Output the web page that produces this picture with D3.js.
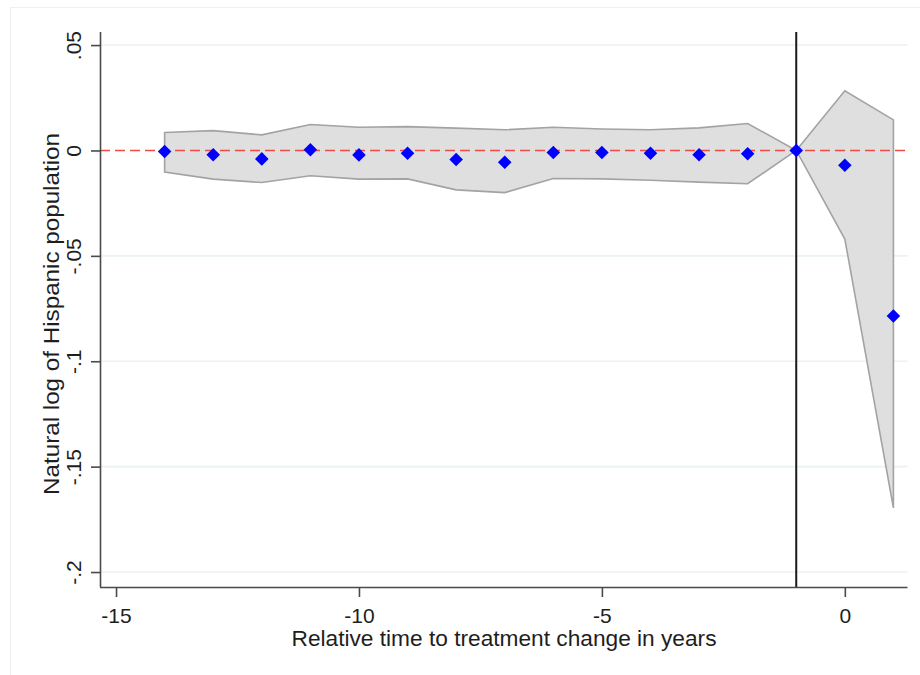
<!DOCTYPE html>
<html>
<head>
<meta charset="utf-8">
<script src="https://cdn.jsdelivr.net/npm/d3@7"></script>
<style>
  html, body { margin: 0; padding: 0; background: #ffffff; }
  svg { display: block; font-family: "Liberation Sans", Arial, sans-serif; }
</style>
</head>
<body>
<svg id="chart" width="920" height="675"></svg>
<script>
// Event-study estimates: relative year, point estimate, 95% CI bounds
const years    = [-14, -13, -12, -11, -10, -9, -8, -7, -6, -5, -4, -3, -2, -1, 0, 1];
const estimate = [-0.0005, -0.0020, -0.0040, 0.0003, -0.0021, -0.0013, -0.0043, -0.0056,
                  -0.0010, -0.0010, -0.0013, -0.0020, -0.0016, 0, -0.0070, -0.0785];
const ciUpper  = [0.0085, 0.0094, 0.0074, 0.0123, 0.0110, 0.0113, 0.0106, 0.0098,
                  0.0110, 0.0102, 0.0098, 0.0107, 0.0128, 0, 0.0283, 0.0145];
const ciLower  = [-0.0102, -0.0136, -0.0152, -0.0120, -0.0136, -0.0135, -0.0187, -0.0200,
                  -0.0133, -0.0135, -0.0141, -0.0150, -0.0158, 0, -0.0420, -0.1696];

const xTicks = [-15, -10, -5, 0];
const yTicks = [0.05, 0, -0.05, -0.1, -0.15, -0.2];
const yTickLabels = [".05", "0", "-.05", "-.1", "-.15", "-.2"];
const treatmentYear = -1;

const xTitle = "Relative time to treatment change in years";
const yTitle = "Natural log of Hispanic population";

const rows = years.map((yr, i) => ({ yr, est: estimate[i], hi: ciUpper[i], lo: ciLower[i] }));

const svg = d3.select("#chart");
const plotLeft = 100, plotRight = 907.5, plotTop = 32, plotBottom = 587;

const x = d3.scaleLinear().domain([-15.33, 1.29]).range([plotLeft, plotRight]);
const y = d3.scaleLinear().domain([-0.2071, 0.0562]).range([plotBottom, plotTop]);

// faint outer graph-region frame
svg.append("rect")
  .attr("x", 10.5).attr("y", 7.5).attr("width", 1000).attr("height", 1000)
  .attr("fill", "none").attr("stroke", "#efefef").attr("stroke-width", 1);

// horizontal grid lines
svg.append("g").selectAll("line").data(yTicks.filter(v => v !== 0)).join("line")
  .attr("x1", plotLeft).attr("x2", plotRight)
  .attr("y1", d => y(d)).attr("y2", d => y(d))
  .attr("stroke", "#eaf2f3").attr("stroke-width", 1.6);

// confidence band
const area = d3.area()
  .x(d => x(d.yr)).y0(d => y(d.lo)).y1(d => y(d.hi));
svg.append("path").datum(rows)
  .attr("d", area)
  .attr("fill", "#dfdfdf")
  .attr("stroke", "#a3a3a3").attr("stroke-width", 1.6).attr("stroke-linejoin", "miter");

// zero reference line
svg.append("line")
  .attr("x1", plotLeft).attr("x2", plotRight)
  .attr("y1", y(0)).attr("y2", y(0))
  .attr("stroke", "#ef4a48").attr("stroke-width", 1.6)
  .attr("stroke-dasharray", "10,5");

// treatment timing line
svg.append("line")
  .attr("x1", x(treatmentYear)).attr("x2", x(treatmentYear))
  .attr("y1", plotTop).attr("y2", plotBottom)
  .attr("stroke", "#1a1a1a").attr("stroke-width", 2);

// point estimates as diamonds
const diamond = d3.symbol().type(d3.symbolSquare).size(92);
svg.append("g").selectAll("path").data(rows).join("path")
  .attr("d", diamond)
  .attr("transform", d => `translate(${x(d.yr)},${y(d.est)}) rotate(45)`)
  .attr("fill", "#0000ff");

// y axis
const yAxis = svg.append("g").attr("transform", `translate(${plotLeft},0)`)
  .call(d3.axisLeft(y).tickValues(yTicks).tickSize(9).tickFormat("").tickSizeOuter(0));
yAxis.select(".domain").attr("stroke", "#4a4a4a").attr("stroke-width", 1.6)
  .attr("d", `M0.5,${plotTop}V${plotBottom}`);
yAxis.selectAll(".tick line").attr("stroke", "#4a4a4a").attr("stroke-width", 1.6);
yAxis.selectAll(".tick").append("text")
  .attr("transform", "translate(-19,0) rotate(-90)")
  .attr("text-anchor", "middle")
  .attr("fill", "#1e1e1e")
  .attr("font-size", 21)
  .text((d, i) => yTickLabels[i]);

// x axis
const xAxis = svg.append("g").attr("transform", `translate(0,${plotBottom})`)
  .call(d3.axisBottom(x).tickValues(xTicks).tickSize(10).tickFormat("").tickSizeOuter(0));
xAxis.select(".domain").attr("stroke", "#4a4a4a").attr("stroke-width", 1.6)
  .attr("d", `M${plotLeft},0.5H${plotRight}`);
xAxis.selectAll(".tick line").attr("stroke", "#4a4a4a").attr("stroke-width", 1.6);
xAxis.selectAll(".tick").append("text")
  .attr("y", 36)
  .attr("text-anchor", "middle")
  .attr("fill", "#1e1e1e")
  .attr("font-size", 21)
  .text(d => String(d));

// axis titles
svg.append("text")
  .attr("x", 504).attr("y", 646)
  .attr("text-anchor", "middle")
  .attr("fill", "#1e1e1e")
  .attr("font-size", 22)
  .attr("textLength", 425)
  .attr("lengthAdjust", "spacingAndGlyphs")
  .text(xTitle);

svg.append("text")
  .attr("transform", "translate(59,314) rotate(-90)")
  .attr("text-anchor", "middle")
  .attr("fill", "#1e1e1e")
  .attr("font-size", 22)
  .attr("textLength", 362)
  .attr("lengthAdjust", "spacingAndGlyphs")
  .text(yTitle);
</script>
</body>
</html>
